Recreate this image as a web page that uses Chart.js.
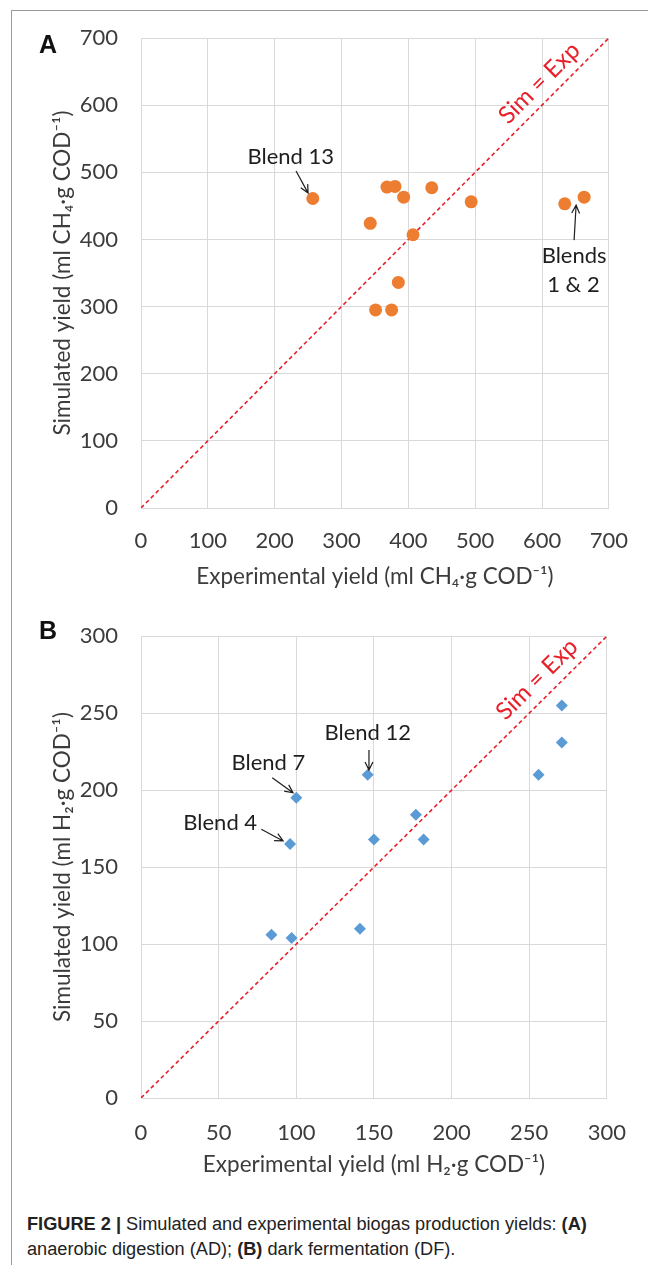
<!DOCTYPE html>
<html>
<head>
<meta charset="utf-8">
<script src="https://cdn.jsdelivr.net/npm/chart.js@4.4.1/dist/chart.umd.min.js"></script>
<style>
  html, body { margin:0; padding:0; background:#fff; }
  body { width:648px; height:1265px; position:relative; overflow:hidden; }
  #frame { position:absolute; left:11px; top:10px; width:700px; height:1300px;
           border-top:1.5px solid #9a9a9a; border-left:1.5px solid #9a9a9a; }
  .panel { position:absolute; left:0; width:648px; height:600px; }
  #wrapA { top:0; }
  #wrapB { top:600px; }
  .letter { position:absolute; font:bold 25px "Liberation Sans", Arial, sans-serif; color:#111; }
  #caption { position:absolute; left:27px; top:1212px; white-space:nowrap;
             font:18px "Liberation Sans", Arial, sans-serif; line-height:25px; color:#222;
             transform-origin:0 0; }
</style>
</head>
<body>
<div id="frame"></div>
<div class="panel" id="wrapA"><canvas id="chartA" width="648" height="600"></canvas></div>
<div class="panel" id="wrapB"><canvas id="chartB" width="648" height="600"></canvas></div>
<div class="letter" style="left:39px;top:30px">A</div>
<div class="letter" style="left:39px;top:616px">B</div>
<div id="caption"><span id="cap1"><b>FIGURE 2 |</b> Simulated and experimental biogas production yields: <b>(A)</b></span><br>anaerobic digestion (AD); <b>(B)</b> dark fermentation (DF).</div>

<script>
// Panel A: anaerobic digestion (ml CH4 / g COD)
const expA = [257, 368, 380, 393, 435, 494, 343, 407, 385, 351, 375, 634, 663];
const simA = [461, 478, 479, 463, 477, 456, 424, 407, 336, 295, 295, 453, 463];
const ticksA = [0, 100, 200, 300, 400, 500, 600, 700];

// Panel B: dark fermentation (ml H2 / g COD)
const expB = [146, 100, 96, 150, 177, 182, 84, 97, 141, 271, 271, 256];
const simB = [210, 195, 165, 168, 184, 168, 106, 104, 110, 255, 231, 210];
const ticksB = [0, 50, 100, 150, 200, 250, 300];

// callouts, in data units
const labelsA = [
  { text:'Blend 13', x:224, y:523 },
  { text:'Blends', x:648, y:375 },
  { text:'1 & 2', x:647, y:332 }
];
const arrowsA = [
  { x1:232, y1:502, x2:250, y2:469 },
  { x1:648, y1:399, x2:651, y2:451 }
];
const labelsB = [
  { text:'Blend 12', x:146, y:237 },
  { text:'Blend 7', x:82, y:217.5 },
  { text:'Blend 4', x:51, y:179 }
];
const arrowsB = [
  { x1:146.8, y1:226, x2:146.8, y2:213 },
  { x1:84.5, y1:208, x2:97.9, y2:198.3 },
  { x1:77.5, y1:174.6, x2:91.5, y2:167 }
];
const simExpA = { x:596, y:633 };
const simExpB = { x:255, y:272 };

const RED = 'rgb(232,32,42)';
const GRID = '#d9d9d9';
const TXT = '#3c3c3c';
const FONT = 'Lato, "Open Sans", sans-serif';

const notesPlugin = {
  id: 'notes',
  afterDatasetsDraw(chart, args, opts) {
    const { ctx, scales: { x, y } } = chart;
    ctx.save();
    ctx.font = '22px ' + FONT;
    ctx.fillStyle = '#1e1e1e';
    ctx.textAlign = 'center';
    ctx.textBaseline = 'middle';
    opts.labels.forEach(l => ctx.fillText(l.text, x.getPixelForValue(l.x), y.getPixelForValue(l.y)));

    ctx.strokeStyle = '#1e1e1e';
    ctx.lineWidth = 1.2;
    opts.arrows.forEach(a => {
      const x1 = x.getPixelForValue(a.x1), y1 = y.getPixelForValue(a.y1);
      const x2 = x.getPixelForValue(a.x2), y2 = y.getPixelForValue(a.y2);
      const ang = Math.atan2(y2 - y1, x2 - x1), h = 9, spread = 0.45;
      ctx.beginPath();
      ctx.moveTo(x1, y1); ctx.lineTo(x2, y2);
      ctx.moveTo(x2 - h * Math.cos(ang - spread), y2 - h * Math.sin(ang - spread));
      ctx.lineTo(x2, y2);
      ctx.lineTo(x2 - h * Math.cos(ang + spread), y2 - h * Math.sin(ang + spread));
      ctx.stroke();
    });

    // "Sim = Exp" along the 1:1 line
    const rot = Math.atan2(y.getPixelForValue(y.max) - y.getPixelForValue(0),
                           x.getPixelForValue(x.max) - x.getPixelForValue(0));
    ctx.translate(x.getPixelForValue(opts.sim.x), y.getPixelForValue(opts.sim.y));
    ctx.rotate(rot);
    ctx.font = '24px ' + FONT;
    ctx.fillStyle = RED;
    ctx.fillText('Sim = Exp', 0, 0);
    ctx.restore();
  }
};

function axis(ticks, max, title, fit, pad, titlePad) {
  return {
    type: 'linear', min: 0, max: max,
    afterBuildTicks: s => { s.ticks = ticks.map(v => ({ value: v })); },
    afterFit: fit,
    grid: { color: GRID, lineWidth: 1, drawTicks: false },
    border: { color: GRID },
    ticks: { padding: pad, color: TXT, font: { family: FONT, size: 22 }, maxRotation: 0, autoSkip: false },
    title: { display: true, text: title, color: TXT, font: { family: FONT, size: 22.5 }, padding: titlePad }
  };
}

function makeChart(id, xs, ys, ticks, max, marker, gas, notes, top, xHeight, xPad, xTitlePad) {
  const pts = xs.map((v, i) => ({ x: v, y: ys[i] }));
  new Chart(document.getElementById(id), {
    type: 'scatter',
    data: {
      datasets: [
        { data: pts, order: 0, ...marker },
        { data: [{ x: 0, y: 0 }, { x: max, y: max }], order: 1, showLine: true,
          borderColor: RED, borderWidth: 1.6, borderDash: [4, 3], pointRadius: 0 }
      ]
    },
    options: {
      responsive: false, animation: false, events: [],
      layout: { padding: { left: 0, right: 35, top: top, bottom: 0 } },
      plugins: { legend: { display: false }, tooltip: { enabled: false }, notes: notes },
      scales: {
        x: axis(ticks, max, 'Experimental yield (ml ' + gas + '·g COD⁻¹)', s => { s.height = xHeight; }, xPad, { top: 0, bottom: xTitlePad }),
        y: axis(ticks, max, 'Simulated yield (ml ' + gas + '·g COD⁻¹)', s => { s.width = 141; }, 23, { top: 49, bottom: 0 })
      }
    },
    plugins: [notesPlugin]
  });
}

makeChart('chartA', expA, simA, ticksA, 700,
  { pointStyle: 'circle', pointRadius: 6.5, backgroundColor: '#ED7D31', borderColor: '#ED7D31', borderWidth: 0 },
  'CH₄', { labels: labelsA, arrows: arrowsA, sim: simExpA }, 38, 92, 20, 9.5);

makeChart('chartB', expB, simB, ticksB, 300,
  { pointStyle: 'rectRot', pointRadius: 6, backgroundColor: '#5B9BD5', borderColor: '#5B9BD5', borderWidth: 0 },
  'H₂', { labels: labelsB, arrows: arrowsB, sim: simExpB }, 29, 102, 22, 21.5);

// squeeze the caption to the width of the printed line
const cap = document.getElementById('caption');
const w = document.getElementById('cap1').getBoundingClientRect().width;
cap.style.transform = 'scaleX(' + (560 / w).toFixed(3) + ')';
</script>
</body>
</html>
